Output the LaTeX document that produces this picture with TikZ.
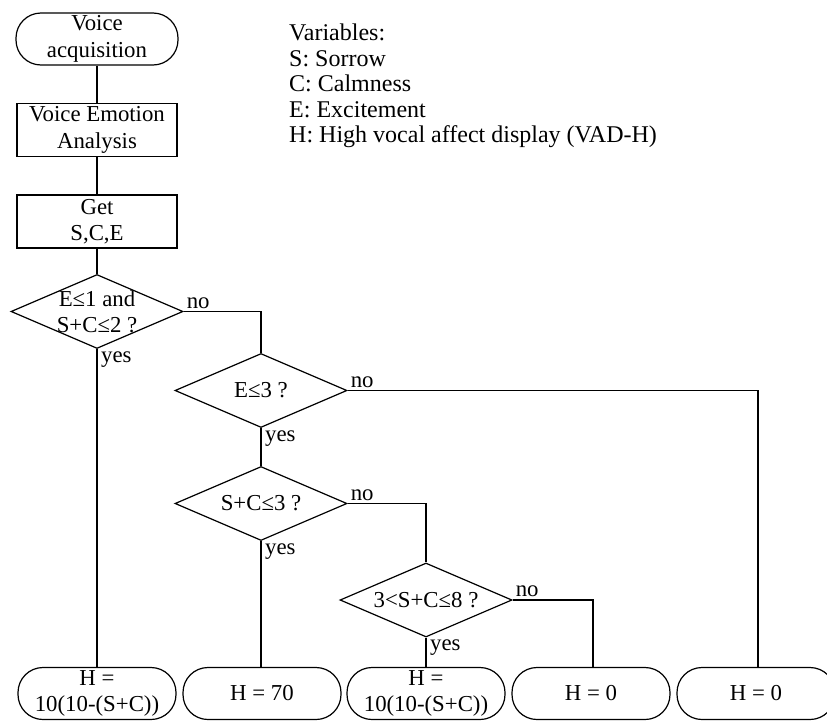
\documentclass[tikz,border=0pt]{standalone}
\usepackage{fontspec}
\setmainfont{Liberation Serif}
\usetikzlibrary{shapes.geometric}
\begin{document}
\begin{tikzpicture}[x=1pt,y=-1pt,
  every node/.style={font=\fontsize{22.8}{26.5}\selectfont},
  term/.style={draw, line width=1.2pt, rounded corners=25pt, minimum width=158pt, minimum height=52pt, align=center, inner sep=0pt},
  proc/.style={draw, line width=1.2pt, minimum width=160pt, minimum height=53pt, align=center, inner sep=0pt},
  dec/.style={draw, line width=1.2pt, diamond, minimum width=172pt, minimum height=74pt, inner sep=0pt},
  txt/.style={align=center, inner sep=0pt},
  lab/.style={inner sep=3pt},
  conn/.style={line width=1.2pt}
]
\useasboundingbox (0,0) rectangle (827,723);
% nodes
\node[term, minimum width=162pt] (acq) at (97,39) {Voice\\acquisition};
\node[proc] (vea) at (97,130) {Voice Emotion\\Analysis};
\node[proc] (get) at (97,221.5) {Get\\S,C,E};
\node[dec] (d1) at (97,311.5) {};
\node[txt] (d1t) at (d1) {E≤1 and\\S+C≤2 ?};
\node[dec] (d2) at (261,390.5) {};
\node[txt] (d2t) at (d2) {E≤3 ?};
\node[dec] (d3) at (261,503.5) {};
\node[txt] (d3t) at (d3) {S+C≤3 ?};
\node[dec] (d4) at (426,600) {};
\node[txt] (d4t) at (d4) {3<S+C≤8 ?};
\node[term] (h1) at (97,693.5) {H =\\10(10-(S+C))};
\node[term] (h2) at (262,693.5) {H = 70};
\node[term] (h3) at (426,693.5) {H =\\10(10-(S+C))};
\node[term] (h4) at (591,693.5) {H = 0};
\node[term] (h5) at (756,693.5) {H = 0};
\node[anchor=north west, align=left, inner sep=0pt, font=\fontsize{24}{25.5}\selectfont] (vars) at (289,24) {Variables:\\S: Sorrow\\C: Calmness\\E: Excitement\\H: High vocal affect display (VAD-H)};
% connectors
\draw[conn] (acq.south) -- (vea.north);
\draw[conn] (vea.south) -- (get.north);
\draw[conn] (get.south) -- (d1.north);
\draw[conn] (d1.south) -- (h1.north);
\draw[conn] (d1.east) -| (d2.north);
\draw[conn] (d2.south) -- (d3.north);
\draw[conn] (d2.east) -| ([xshift=2pt]h5.north);
\draw[conn] (d3.south) -- ([xshift=-1pt]h2.north);
\draw[conn] (d3.east) -| (d4.north);
\draw[conn] (d4.south) -- (h3.north);
\draw[conn] (d4.east) -| ([xshift=2pt]h4.north);
% labels
\node[lab, anchor=south west] (n1) at (d1.east) {no};
\node[lab, anchor=north west, xshift=1pt, yshift=1pt] (y1) at (d1.south) {yes};
\node[lab, anchor=south west] (n2) at (d2.east) {no};
\node[lab, anchor=north west, xshift=1pt, yshift=1pt] (y2) at (d2.south) {yes};
\node[lab, anchor=south west] (n3) at (d3.east) {no};
\node[lab, anchor=north west, xshift=1pt, yshift=1pt] (y3) at (d3.south) {yes};
\node[lab, anchor=south west] (n4) at (d4.east) {no};
\node[lab, anchor=north west, xshift=1pt, yshift=1pt] (y4) at (d4.south) {yes};
\end{tikzpicture}
\end{document}
